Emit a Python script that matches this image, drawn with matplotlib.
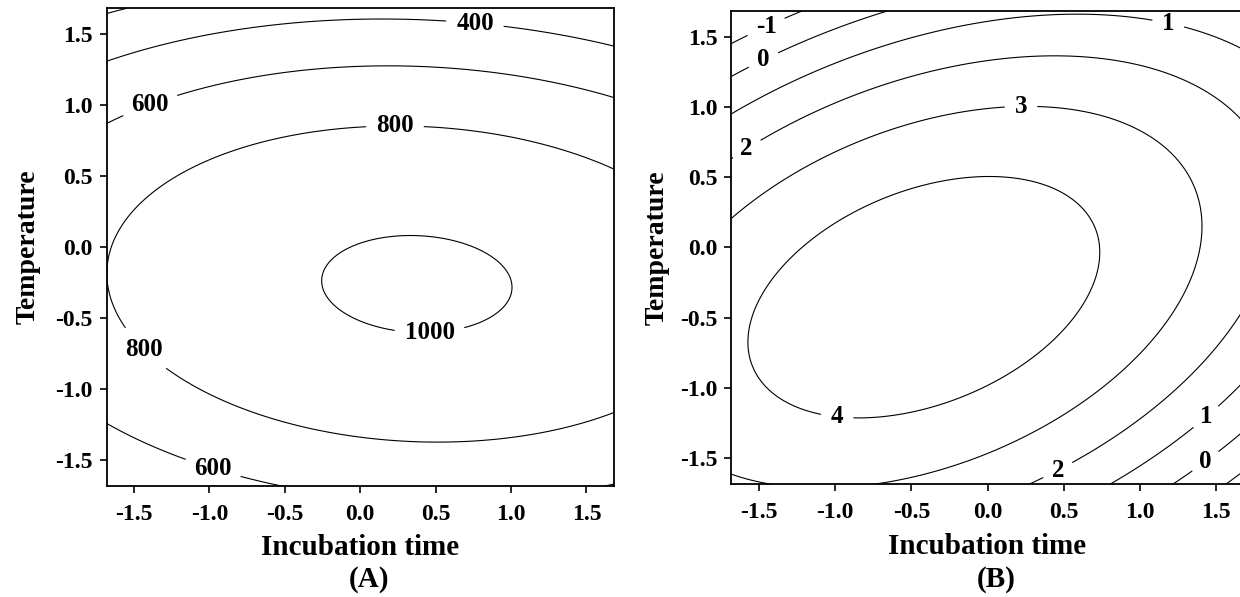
import matplotlib
matplotlib.use("Agg")
import matplotlib.pyplot as plt
import numpy as np

# coded factor range of the central composite design
alpha = 1.682

# fitted second-order models: b0, b1 (time), b2 (temp), b11, b22, b12
coef_a = [1002.6, 36.0, -88.2, -52.5, -179.0, -13.0]
coef_b = [4.52, -0.28, -0.50, -0.58, -1.05, 0.58]

levels_a = [200, 400, 600, 800, 1000]
levels_b = [-1, 0, 1, 2, 3, 4]

# where the contour values are written
label_pos_a = [(0.76, 1.57), (-1.39, 0.99), (0.23, 0.83),
               (0.46, -0.60), (-1.44, -0.73), (-0.98, -1.57)]
label_pos_b = [(-1.45, 1.56), (-1.47, 1.33), (1.18, 1.56), (-1.58, 0.70),
               (0.22, 0.98), (-0.99, -1.23), (0.46, -1.58),
               (1.43, -1.20), (1.43, -1.52)]

ticks = [-1.5, -1.0, -0.5, 0.0, 0.5, 1.0, 1.5]

plt.rcParams['font.family'] = ['Liberation Serif', 'DejaVu Serif']
plt.rcParams['font.weight'] = 'bold'
plt.rcParams['axes.unicode_minus'] = False
plt.rcParams['contour.negative_linestyle'] = 'solid'


def surface(c, x, y):
    return (c[0] + c[1] * x + c[2] * y + c[3] * x ** 2
            + c[4] * y ** 2 + c[5] * x * y)


def contour_panel(ax, coef, levels, label_pos, ylab_x, xlab_y):
    g = np.linspace(-alpha, alpha, 400)
    X, Y = np.meshgrid(g, g)
    Z = surface(coef, X, Y)
    cs = ax.contour(X, Y, Z, levels=levels, colors='black', linewidths=0.8,
                    linestyles='solid')
    labels = ax.clabel(cs, inline=True, fmt='%d', fontsize=18,
                       manual=label_pos, inline_spacing=10)
    for t in labels:
        t.set_rotation(0)
        t.set_fontweight('bold')

    ax.set_xlim(-alpha, alpha)
    ax.set_ylim(-alpha, alpha)
    ax.set_xticks(ticks)
    ax.set_yticks(ticks)
    ax.set_xticklabels(['%.1f' % v for v in ticks])
    ax.set_yticklabels(['%.1f' % v for v in ticks])
    ax.tick_params(direction='out', length=5, width=1.2, labelsize=17)
    ax.tick_params(axis='x', pad=8)
    ax.tick_params(axis='y', pad=5)
    for s in ax.spines.values():
        s.set_linewidth(1.3)

    ax.set_xlabel('Incubation time', fontsize=21, fontweight='bold')
    ax.set_ylabel('Temperature', fontsize=20, fontweight='bold')
    ax.xaxis.set_label_coords(0.5, xlab_y)
    ax.yaxis.set_label_coords(ylab_x, 0.5)


fig = plt.figure(figsize=(12.4, 5.97), dpi=100)
ax_a = fig.add_axes([0.0860, 0.1860, 0.4091, 0.8001])
ax_b = fig.add_axes([0.5898, 0.1893, 0.4132, 0.7923])

contour_panel(ax_a, coef_a, levels_a, label_pos_a, -0.131, -0.10)
contour_panel(ax_b, coef_b, levels_b, label_pos_b, -0.120, -0.103)

fig.text(0.2976, 0.0285, '(A)', fontsize=21, fontweight='bold',
         ha='center', va='center')
fig.text(0.803, 0.0285, '(B)', fontsize=21, fontweight='bold',
         ha='center', va='center')

fig.savefig('out.png', dpi=100)
